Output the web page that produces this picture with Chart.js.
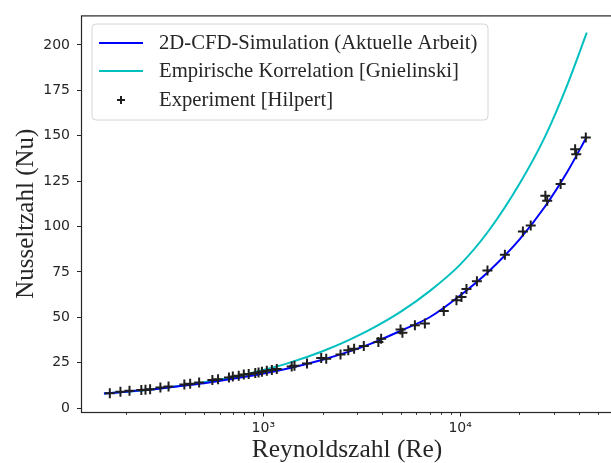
<!DOCTYPE html>
<html>
<head>
<meta charset="utf-8">
<script src="https://cdn.jsdelivr.net/npm/chart.js@4.4.0/dist/chart.umd.min.js"></script>
<style>
  html, body { margin: 0; padding: 0; background: #fff; overflow: hidden; width: 611px; height: 463px; }
  canvas { display: block; }
</style>
</head>
<body>
<canvas id="chart" width="620" height="463"></canvas>
<script>
// ---- Data ----
const reLine = [155, 200, 250, 300, 400, 500, 700, 1000, 1400, 2000, 2700, 3500, 5000, 7000, 10000, 14000, 20000, 27000, 35000, 44000];
const nuCfd  = [8.0, 9.0, 9.9, 10.8, 12.4, 13.7, 16.1, 19.0, 22.3, 26.6, 30.9, 35.3, 42.6, 50.0, 62.0, 75.4, 92.8, 111, 130, 149.5];
const nuGnielinski = [8.0, 8.9, 9.8, 10.8, 12.6, 14.2, 16.9, 20.9, 25.4, 31.3, 37.3, 43.3, 53.1, 64.4, 79.0, 97.8, 123.4, 149.5, 177.9, 206.8];

const reExp = [166, 188, 209, 240, 252, 266, 300, 330, 397, 425, 472, 551, 589, 669, 700, 750, 796, 843, 910, 946,
               984, 1042, 1105, 1171, 1394, 1440, 1667, 1969, 2088, 2468, 2703, 2893, 3240, 3843, 3969, 4980, 5090,
               5890, 6620, 8260, 9580, 10160, 10770, 12170, 13770, 16880, 20840, 22840, 27100, 27700, 32400, 38400,
               38900, 43500];
const nuExp = [8.1, 9.0, 9.5, 9.9, 10.1, 10.3, 11.3, 11.8, 13.0, 13.4, 14.1, 15.4, 15.8, 16.8, 17.3, 17.8, 18.5, 18.7, 19.3, 19.5,
               20.0, 20.5, 21.0, 21.5, 22.9, 23.3, 24.5, 27.6, 27.2, 29.5, 31.8, 32.7, 34.2, 36.4, 38.2, 43.2, 41.4,
               45.6, 46.5, 53.4, 59.3, 61.1, 65.5, 69.9, 75.8, 84.5, 97.3, 100.5, 116.9, 114.2, 123.4, 142.6,
               139.8, 149];

const xTicks       = [200, 300, 400, 500, 600, 700, 800, 900, 1000, 2000, 3000, 4000, 5000, 6000, 7000, 8000, 9000,
                      10000, 20000, 30000, 40000, 50000];
const xMajorTicks  = [1000, 10000];
const xMajorLabels = ['10³', '10⁴'];
const yTicks       = [0, 25, 50, 75, 100, 125, 150, 175, 200];

const seriesNames = ['2D-CFD-Simulation (Aktuelle Arbeit)', 'Empirische Korrelation [Gnielinski]', 'Experiment [Hilpert]'];

const INK = '#262626';
const SERIF = '"Liberation Serif", "Times New Roman", serif';
const SANS = '"DejaVu Sans", sans-serif';

const toPoints = (xs, ys) => xs.map((x, i) => ({ x: x, y: ys[i] }));

// ---- Frame, minor/major x ticks and in-plot legend ----
const framePlugin = {
  id: 'frame',
  afterDraw(chart) {
    const ctx = chart.ctx;
    const a = chart.chartArea;
    const xs = chart.scales.x;

    ctx.save();
    // x tick marks (major longer than minor)
    ctx.strokeStyle = INK;
    ctx.lineWidth = 1;
    xTicks.forEach(v => {
      const px = Math.round(xs.getPixelForValue(v)) + 0.5;
      const len = xMajorTicks.includes(v) ? 4.5 : 2.8;
      ctx.beginPath();
      ctx.moveTo(px, a.bottom);
      ctx.lineTo(px, a.bottom + len);
      ctx.stroke();
    });

    // plot frame
    ctx.lineWidth = 1.2;
    ctx.strokeRect(a.left + 0.5, a.top + 0.5, a.right - a.left, a.bottom - a.top);

    // legend box
    const bx = 92, by = 24, bw = 396, bh = 96, r = 4;
    ctx.beginPath();
    ctx.moveTo(bx + r, by);
    ctx.arcTo(bx + bw, by, bx + bw, by + bh, r);
    ctx.arcTo(bx + bw, by + bh, bx, by + bh, r);
    ctx.arcTo(bx, by + bh, bx, by, r);
    ctx.arcTo(bx, by, bx + bw, by, r);
    ctx.closePath();
    ctx.fillStyle = 'rgba(255,255,255,0.8)';
    ctx.fill();
    ctx.strokeStyle = '#d6d6d6';
    ctx.lineWidth = 1;
    ctx.stroke();

    const rows = [43, 71, 100];
    chart.data.datasets.forEach((ds, i) => {
      const y = rows[i];
      ctx.lineWidth = 2;
      if (ds.showLine) {
        ctx.strokeStyle = ds.borderColor;
        ctx.beginPath();
        ctx.moveTo(99, y);
        ctx.lineTo(143, y);
        ctx.stroke();
      } else {
        ctx.strokeStyle = ds.pointBorderColor;
        ctx.beginPath();
        ctx.moveTo(121 - 4, y); ctx.lineTo(121 + 4, y);
        ctx.moveTo(121, y - 4); ctx.lineTo(121, y + 4);
        ctx.stroke();
      }
      ctx.fillStyle = INK;
      ctx.font = '20.7px ' + SERIF;
      ctx.textBaseline = 'middle';
      ctx.textAlign = 'left';
      ctx.fillText(ds.label, 159, y + 1);
    });
    ctx.restore();
  }
};

const chart = new Chart(document.getElementById('chart'), {
  type: 'scatter',
  data: {
    datasets: [
      {
        label: seriesNames[0],
        data: toPoints(reLine, nuCfd),
        showLine: true,
        borderColor: '#0000ff',
        borderWidth: 2,
        pointRadius: 0,
        cubicInterpolationMode: 'monotone',
        order: 2
      },
      {
        label: seriesNames[1],
        data: toPoints(reLine, nuGnielinski),
        showLine: true,
        borderColor: '#00bfbf',
        borderWidth: 2,
        pointRadius: 0,
        cubicInterpolationMode: 'monotone',
        order: 3
      },
      {
        label: seriesNames[2],
        data: toPoints(reExp, nuExp),
        showLine: false,
        pointStyle: 'cross',
        pointRadius: 5,
        pointBorderColor: '#1e1e1e',
        pointBorderWidth: 2,
        order: 1
      }
    ]
  },
  options: {
    responsive: false,
    animation: false,
    layout: { padding: { left: 0, right: 3, top: 14, bottom: 0 } },
    plugins: {
      legend: { display: false },
      tooltip: { enabled: false }
    },
    scales: {
      x: {
        type: 'logarithmic',
        min: 118.5,
        max: 59800,
        afterBuildTicks: s => { s.ticks = xTicks.map(v => ({ value: v })); },
        afterFit: s => { s.height = 51; },
        ticks: {
          autoSkip: false,
          maxRotation: 0,
          padding: 4,
          color: INK,
          font: { family: SANS, size: 14 },
          callback: v => {
            const k = xMajorTicks.indexOf(v);
            return k >= 0 ? xMajorLabels[k] : '';
          }
        },
        grid: { display: false, tickLength: 4 },
        border: { display: false },
        title: {
          display: true,
          text: 'Reynoldszahl (Re)',
          color: INK,
          font: { family: SERIF, size: 25.5, lineHeight: 1.0 },
          padding: { top: 0, bottom: 0 }
        }
      },
      y: {
        min: -2.2,
        max: 216.3,
        afterBuildTicks: s => { s.ticks = yTicks.map(v => ({ value: v })); },
        afterFit: s => { s.width = 81; },
        ticks: {
          padding: 7,
          color: INK,
          font: { family: SANS, size: 14 }
        },
        grid: { drawOnChartArea: false, tickLength: 4, color: INK },
        border: { display: false },
        title: {
          display: true,
          text: 'Nusseltzahl (Nu)',
          color: INK,
          font: { family: SERIF, size: 25, lineHeight: 1.0 },
          padding: { top: 14, bottom: 0 }
        }
      }
    }
  },
  plugins: [framePlugin]
});
</script>
</body>
</html>
